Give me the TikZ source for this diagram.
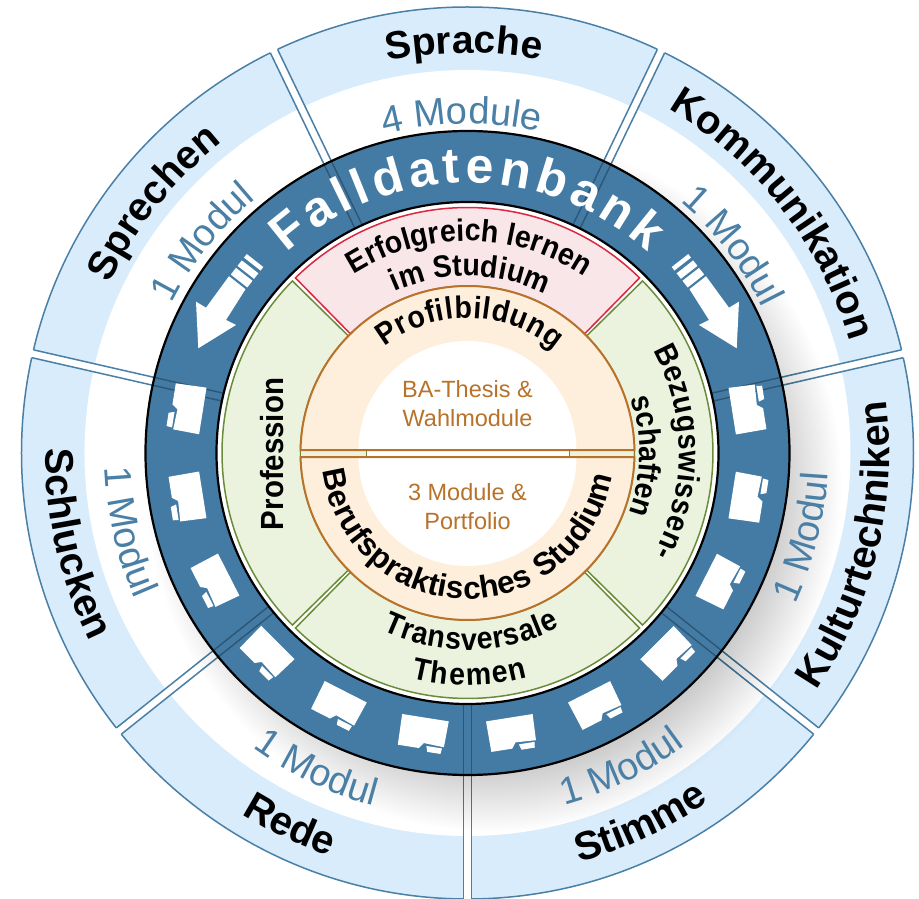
\documentclass[tikz,border=0pt]{standalone}
\usepackage{fontspec}
\setmainfont{Liberation Sans}
\newfontfamily\condfam{Liberation Sans}[FakeStretch=.92]
\usetikzlibrary{decorations.text}
\definecolor{ringblue}{HTML}{437BA5}
\definecolor{ringdark}{HTML}{2E5673}
\definecolor{bandblue}{HTML}{D9ECFB}
\definecolor{lineblue}{HTML}{4A7FA6}
\definecolor{sred}{HTML}{D9283F}
\definecolor{sredfill}{HTML}{F8E6E9}
\definecolor{sgreen}{HTML}{6A8C3A}
\definecolor{sgreenfill}{HTML}{EBF3DF}
\definecolor{sorange}{HTML}{B8722A}
\definecolor{sorangefill}{HTML}{FEEFDC}
\newcommand\fOuter{\fontsize{40}{40}\bfseries\selectfont}
\newcommand\fSpr{\fontsize{39}{39}\bfseries\selectfont}
\newcommand\fMod{\fontsize{38}{38}\selectfont\color{lineblue}}
\newcommand\fIn{\condfam\fontsize{31}{31}\bfseries\selectfont}
\newcommand\fBer{\fontsize{31.5}{31.5}\bfseries\selectfont}
\newcommand\fProf{\condfam\fontsize{32}{32}\bfseries\selectfont}
\newcommand\fFall{\fontsize{50}{50}\bfseries\selectfont\color{white}}
\newcommand\curvetext[5]{\path[decorate,decoration={text along path,text align=#4,text={#5}}] (#2:#1) arc[start angle=#2,end angle=#3,radius=#1];}
\newcommand\sectorpath[4]{(#1:#3) arc[start angle=#1,end angle=#2,radius=#3] -- (#2:#4) arc[start angle=#2,end angle=#1,radius=#4] -- cycle}
\newcommand\myarrow{%
  \fill[white] (-269.2,104.7) -- (-271.5,151.3) -- (-261.5,145.3) -- (-238.5,176.8) -- (-222,163.8) -- (-241.5,133) -- (-231.5,128) -- cycle;
  \begin{scope}[shift={(-230,170)},rotate=52]
    \draw[white,line width=8.5] (6.75,-10.5) -- (6.75,10.5);
    \draw[white,line width=7] (17,-10.5) -- (17,10.5);
    \draw[white,line width=4.5] (26.25,-10.5) -- (26.25,10.5);
  \end{scope}}
\begin{document}
\begin{tikzpicture}[x=1pt,y=1pt,
  divline/.style={lineblue,line width=1.5},
  ringline/.style={ringdark,line width=1.4},
  blackring/.style={black,line width=2.2},
  greensec/.style={fill=sgreenfill,draw=sgreen,line width=1.5},
  redsec/.style={fill=sredfill,draw=sred,line width=1.5},
  orangeline/.style={sorange,line width=2},
  midtext/.style={text=sorange,font=\fontsize{23.5}{29}\selectfont,align=center,inner sep=0}]
\useasboundingbox (-467.5,-446) rectangle (451.5,453);
% outer band
\fill[bandblue,draw=lineblue,line width=1.5] (0,0) circle[radius=446];
\fill[white] (0,0) circle[radius=383];
% dividers across the band
\foreach \a in {-90,-38.571,12.857,64.286,115.714,167.143,218.571}{
  \begin{scope}[rotate=\a]
    \fill[white] (300,-4) rectangle (449,4);
    \draw[divline] (300,-4) -- (446,-4);
    \draw[divline] (300,4) -- (446,4);
  \end{scope}}
% soft shadow
\foreach \r in {285,287.5,...,347.5}
  \fill[black,fill opacity=.008] (26,-31) circle[radius=\r];
% ring
\fill[ringblue] (0,0) circle[radius=322];
\foreach \a in {-90,-38.571,12.857,64.286,115.714,167.143,218.571}{
  \begin{scope}[rotate=\a]
    \draw[ringline] (250,-4) -- (322,-4);
    \draw[ringline] (250,4) -- (322,4);
  \end{scope}}
\draw[blackring] (0,0) circle[radius=322];
\fill[white] (0,0) circle[radius=251];
\draw[blackring] (0,0) circle[radius=251];
% folders
\foreach \a in {171,189,207,225,243,261,279,297,315,333,351,9}{
  \begin{scope}[rotate=\a,shift={(283.5,0)}]
    \fill[white] (-15.5,-23.7) -- (-15.5,23.5) -- (10.9,22.7) -- (9.8,2.2) -- (15.5,-2) -- (15.5,-23.2) -- cycle;
    \fill[white] (12.3,5.2) -- (12.3,21) -- (18,20.4) -- (18,7) -- cycle;
  \end{scope}}
% arrows
\myarrow
\begin{scope}[xscale=-1]\myarrow\end{scope}
% inner sectors
\path[redsec] \sectorpath{45.5}{134.5}{245.5}{167};
\path[greensec] \sectorpath{135.5}{224.5}{245.5}{167};
\path[greensec] \sectorpath{225.5}{314.5}{245.5}{167};
\path[greensec] \sectorpath{315.5}{404.5}{245.5}{167};
% central disc
\fill[sgreenfill] (-166,-4) rectangle (166,3);
\fill[white] (-101,-4) rectangle (102,3);
\fill[sorangefill] (1:167) arc[start angle=1,end angle=179,radius=167] -- cycle;
\fill[sorangefill] (181.4:167) arc[start angle=181.4,end angle=358.6,radius=167] -- cycle;
\fill[white] (0,3) -- (109,3) arc[start angle=0,end angle=180,radius=109] -- cycle;
\fill[white] (0,-4) -- (-109,-4) arc[start angle=180,end angle=360,radius=109] -- cycle;
\draw[sgreen,line width=1.5] (-101,-4) -- (-101,3);
\draw[sgreen,line width=1.5] (102,-4) -- (102,3);
\draw[orangeline] (1:167) arc[start angle=1,end angle=179,radius=167] -- cycle;
\draw[orangeline] (181.4:167) arc[start angle=181.4,end angle=358.6,radius=167] -- cycle;
% centre texts
\node[midtext] (ba) at (0,49) {BA-Thesis \&\\Wahlmodule};
\node[midtext] (mod) at (0,-54) {3 Module \&\\Portfolio};
% outer labels
\curvetext{400}{120.5}{60.5}{center}{|\fSpr|Sprache}
\curvetext{398}{68}{8}{center}{|\fOuter|Kommunikation}
\curvetext{396}{171.5}{111.5}{center}{|\fOuter|Sprechen}
\curvetext{422}{-43.5}{16.5}{center}{|\fOuter|Kulturtechniken}
\curvetext{424}{-95}{-35}{center}{|\fOuter|Stimme}
\curvetext{426}{-145.5}{-85.5}{center}{|\fOuter|Rede}
\curvetext{422}{163}{223}{center}{|\fOuter|Schlucken}
% module labels
\curvetext{329}{121}{61}{center}{|\fMod|4 Module}
\curvetext{329}{68}{8}{center}{|\fMod|1 Modul}
\curvetext{331}{171.5}{111.5}{center}{|\fMod|1 Modul}
\curvetext{361}{-44}{16}{center}{|\fMod|1 Modul}
\curvetext{365}{-94}{-34}{center}{|\fMod|1 Modul}
\curvetext{365}{-145.5}{-85.5}{center}{|\fMod|1 Modul}
\curvetext{363}{163}{223}{center}{|\fMod|1 Modul}
% ring title
\curvetext{270}{132}{48}{fit to path}{|\fFall|Falldatenbank}
% inner labels
\curvetext{212}{122.5}{56.5}{fit to path}{|\fIn|Erfolgreich lernen}
\curvetext{177}{114.2}{64}{fit to path}{|\fIn|im Studium}
\curvetext{135}{128}{50}{fit to path}{|\fIn|Profilbildung}
\curvetext{146}{187}{351}{fit to path}{|\fBer|Berufspraktisches Studium}
\curvetext{197}{244.5}{298}{fit to path}{|\fIn|Transversale}
\curvetext{232}{256}{285}{fit to path}{|\fIn|Themen}
\curvetext{212}{29}{-28.5}{fit to path}{|\fIn|Bezugswissen-}
\curvetext{172}{18.5}{-19.7}{fit to path}{|\fIn|schaften}
\node[rotate=90,font=\fProf,inner sep=0] (prof) at (-195,-1) {Profession};
\end{tikzpicture}
\end{document}
